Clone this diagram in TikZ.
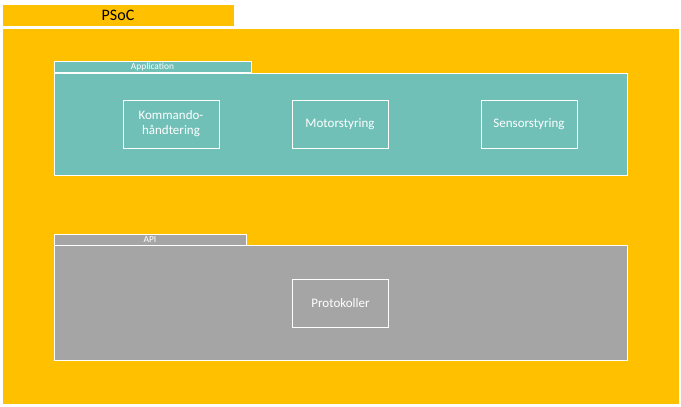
\documentclass[tikz,border=0pt]{standalone}
\usepackage{fontspec}
\setmainfont{Carlito}
\definecolor{psocyellow}{HTML}{FFC000}
\definecolor{appteal}{HTML}{70C0B8}
\definecolor{apigray}{HTML}{A5A5A5}
\begin{document}
\begin{tikzpicture}[x=1pt,y=-1pt,
  panel/.style={draw=white,line width=0.8pt,anchor=north west,inner sep=0pt,outer sep=0pt},
  tabtext/.style={font=\fontsize{9.4}{11}\selectfont,text=white},
  comp/.style={draw=white,line width=0.9pt,minimum width=96pt,minimum height=48pt,inner sep=2pt,
    text=white,align=center,font=\fontsize{13}{15}\selectfont}]
\useasboundingbox (0,0) rectangle (681,407);
\fill[white] (0,0) rectangle (681,407);
% PSoC
\node[panel,fill=psocyellow,minimum width=677pt,minimum height=376pt] (psocbody) at (2,28) {};
\node[panel,fill=psocyellow,minimum width=232pt,minimum height=22pt,
  font=\fontsize{16}{18}\selectfont] (psoctab) at (2,4) {PSoC};
% Application
\node[panel,fill=appteal,minimum width=573pt,minimum height=102pt] (appbody) at (54,73) {};
\node[panel,fill=appteal,minimum width=197pt,minimum height=11pt,tabtext] (apptab) at (54,61) {Application};
\node[comp] (kom) at (171,124) {Kommando-\\håndtering};
\node[comp] (mot) at (340,124) {Motorstyring};
\node[comp] (sen) at (529,124) {Sensorstyring};
% API
\node[panel,fill=apigray,minimum width=573pt,minimum height=115pt] (apibody) at (54,245) {};
\node[panel,fill=apigray,minimum width=192pt,minimum height=11pt,tabtext] (apitab) at (54,234) {API};
\node[comp] (prot) at (340.5,303) {Protokoller};
\end{tikzpicture}
\end{document}
